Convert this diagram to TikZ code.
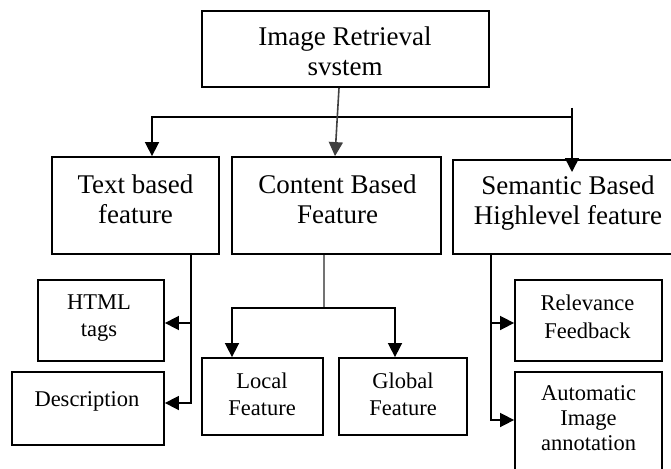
\documentclass[tikz,border=0pt]{standalone}
\usepackage{fontspec}
\setmainfont{Liberation Serif}
\usetikzlibrary{arrows.meta}
\newcommand{\mlines}[1]{\begin{tabular}[t]{@{}c@{}}#1\end{tabular}}
\begin{document}
\begin{tikzpicture}[x=1pt,y=-1pt,
  box/.style={draw=black,line width=1.8pt,rectangle,inner sep=0pt},
  big/.style={font=\fontsize{27}{30}\selectfont,inner sep=0pt,anchor=base},
  small/.style={font=\fontsize{22.5}{27}\selectfont,inner sep=0pt,anchor=base},
  conn/.style={line width=1.6pt,draw=black},
  arr/.style={conn,-{Triangle[length=14pt,width=14pt]}},
]
\fill[white] (0,0) rectangle (671,468);
\useasboundingbox (0,0) rectangle (671,468);

% boxes
\node[box,minimum width=287pt,minimum height=76pt] (top) at (345.5,49) {};
\node[box,minimum width=167pt,minimum height=97pt] (text) at (135.5,205.5) {};
\node[box,minimum width=209pt,minimum height=97pt] (cont) at (336.5,205.5) {};
\node[box,minimum width=230pt,minimum height=94pt] (sem) at (568,207) {};
\node[box,minimum width=126pt,minimum height=81pt] (html) at (101,320.5) {};
\node[box,minimum width=152pt,minimum height=73pt] (desc) at (88,408.5) {};
\node[box,minimum width=121pt,minimum height=77pt] (local) at (262.5,396.5) {};
\node[box,minimum width=128pt,minimum height=77pt] (global) at (403,396.5) {};
\node[box,minimum width=147pt,minimum height=81pt] (rel) at (588.5,320.5) {};
\node[box,minimum width=147pt,minimum height=110pt] (auto) at (588.5,427) {};

% texts
\node[big] (topT) at (345,46) {\mlines{Image Retrieval\\ svstem}};
\node[big] (textT) at (135.5,193) {\mlines{Text based\\ feature}};
\node[big] (contT) at (337.5,193) {\mlines{Content Based\\ Feature}};
\node[big] (semT) at (568,194) {\mlines{Semantic Based\\ Highlevel feature}};
\node[small] (htmlT) at (99,309) {\mlines{HTML\\ tags}};
\node[small] (descT) at (87,406) {Description};
\node[small] (localT) at (262,388) {\mlines{Local\\ Feature}};
\node[small] (globalT) at (403,388) {\mlines{Global\\ Feature}};
\node[small,font=\fontsize{22.5}{28}\selectfont] (relT) at (587.5,310) {\mlines{Relevance\\ Feedback}};
\node[small,font=\fontsize{22.5}{25}\selectfont] (autoT) at (588.5,400) {\mlines{Automatic\\ Image\\ annotation}};

% top level connectors
\coordinate (busL) at (152,117);
\coordinate (busR) at (572,108);
\coordinate (semTip) at (572,172);
\draw[arr] (busR) |- (busL) -- (busL |- text.north);
\draw[arr] (busR) -- (semTip);
\draw[arr,draw=black!75] ([xshift=-6.5pt]top.south) -- ([xshift=-1.5pt]cont.north);

% text based branch
\coordinate (tx) at ([xshift=55.5pt]text.south);
\coordinate (hA) at ([yshift=-2.5pt]html.east);
\coordinate (dA) at ([yshift=5.5pt]desc.east);
\draw[arr] (tx) |- (dA);
\draw[arr] (tx |- hA) -- (hA);

% content based branch
\coordinate (cs) at ([xshift=-12.5pt]cont.south);
\coordinate (cj) at (324,308);
\coordinate (lA) at ([xshift=-30.5pt]local.north);
\coordinate (gA) at ([xshift=-8pt]global.north);
\draw[conn,draw=black!55] (cs) -- (cj);
\draw[arr] (cj) -| (lA);
\draw[arr] (cj) -| (gA);

% semantic branch
\coordinate (ss) at ([xshift=-77pt]sem.south);
\coordinate (rA) at ([yshift=-2.5pt]rel.west);
\coordinate (aA) at ([yshift=7pt]auto.west);
\draw[arr] (ss) |- (aA);
\draw[arr] (ss |- rA) -- (rA);
\end{tikzpicture}
\end{document}
